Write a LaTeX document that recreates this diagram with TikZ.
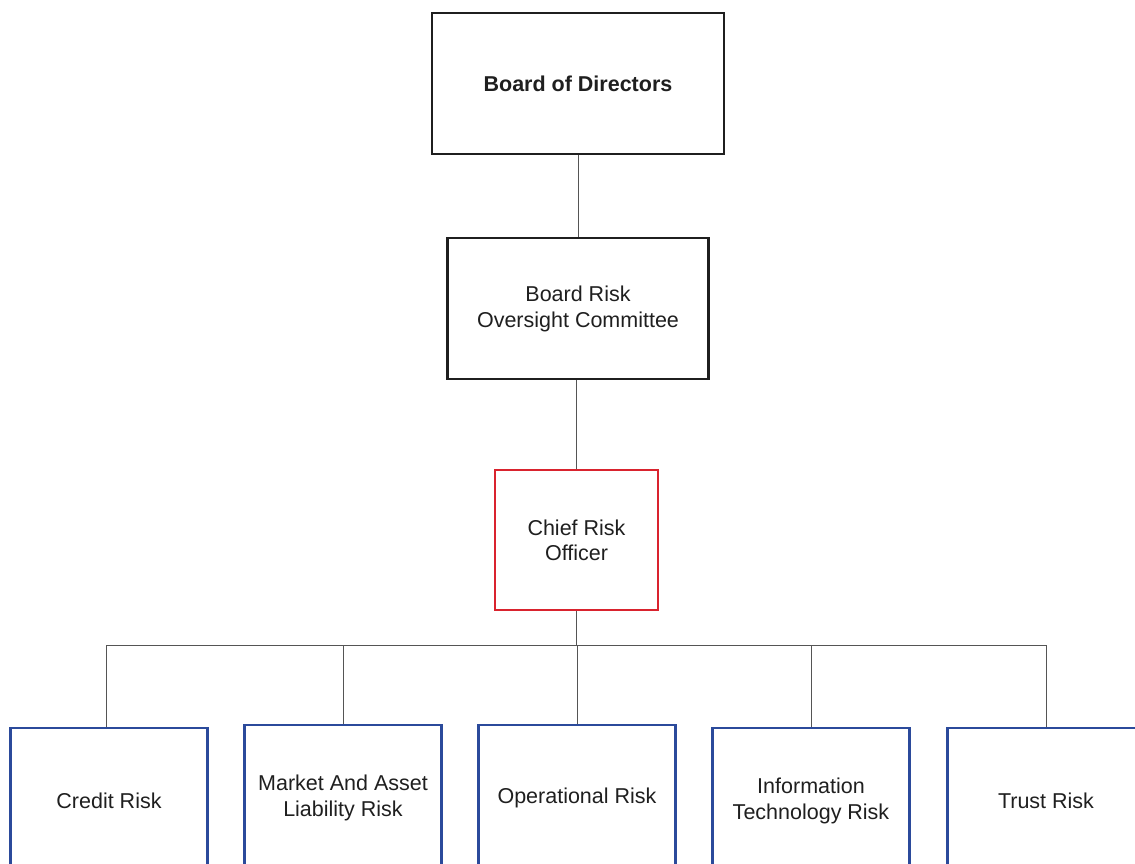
\documentclass[tikz,border=0pt]{standalone}
\usepackage{fontspec}
\setmainfont{Liberation Sans}
\usetikzlibrary{positioning}
\definecolor{riskred}{HTML}{D9232E}
\definecolor{riskblue}{HTML}{2B4A9B}
\definecolor{linkgray}{HTML}{555555}
\tikzset{
  every node/.style={text=black!88,font=\fontsize{21.5}{25.5}\selectfont,align=center},
  board/.style={draw=black!88,line width=2.4pt,minimum width=292pt,minimum height=141pt},
  committee/.style={draw=black!88,line width=2.2pt,minimum width=261pt,minimum height=141pt},
  officer/.style={draw=riskred,line width=2pt,minimum width=163pt,minimum height=140pt},
  unit/.style={draw=riskblue,line width=2.2pt,minimum width=197pt,minimum height=146pt,anchor=north},
  link/.style={draw=linkgray,line width=1pt}
}
\begin{document}
\begin{tikzpicture}[x=1pt,y=1pt]
  \useasboundingbox (0,0) rectangle (1135,-864);
  \clip (0,0) rectangle (1135,-864);
  \node[board]        (bod) at (578,-83.5) {\textbf{Board of Directors}};
  \node[committee]    (broc) [below=82pt of bod] {Board Risk\\Oversight Committee};
  \node[officer]      (cro) [below=89pt of broc,xshift=-1.5pt] {Chief Risk\\Officer};

  \node[unit] (credit)  at (109,-727) {Credit Risk};
  \node[unit] (market)  at (343,-724) {Market And Asset\\Liability Risk};
  \node[unit] (oper)    at (577,-724) {Operational Risk};
  \node[unit] (infotech) at (811,-727) {Information\\Technology Risk};
  \node[unit] (trust)   at (1046,-727) {Trust Risk};

  \coordinate (bus) at (cro |- 0,-645);
  \path[link] (bod) -- (broc)
    (cro.north) -- (cro |- broc.south)
    (cro) -- (bus);
  \foreach \u/\x in {credit/106,market/343,oper/577,infotech/811,trust/1046}
    \draw[link] (\x,0 |- \u.north) -- (\x,0 |- bus) -- (bus);
\end{tikzpicture}
\end{document}
